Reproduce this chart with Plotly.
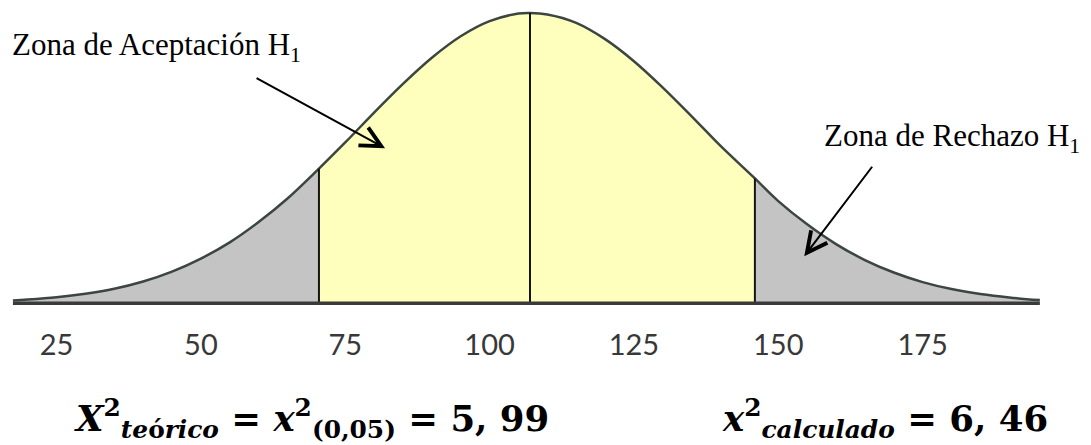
import plotly.graph_objects as go

# curve heights (peak = 1)
curve_x = [17.45, 20, 25, 30, 35, 40, 45, 50, 55, 60, 65, 70.45, 75, 80, 85, 90, 95, 100, 105,
           107.0, 110, 115, 120, 125, 130, 135, 140, 145.95, 150, 155, 160, 165, 170, 175, 180,
           185, 190, 195.3]
curve_y = [0.010, 0.013, 0.021, 0.033, 0.050, 0.075, 0.109, 0.154, 0.210, 0.280, 0.361, 0.464,
           0.554, 0.657, 0.756, 0.846, 0.920, 0.972, 0.998, 1.000, 0.995, 0.966, 0.910, 0.834,
           0.743, 0.644, 0.542, 0.430, 0.352, 0.272, 0.204, 0.149, 0.106, 0.073, 0.049, 0.032,
           0.020, 0.011]

cut_left = 70.45
cut_mid = 107.0
cut_right = 145.95

tick_vals = [25, 50, 75, 100, 125, 150, 175]
tick_text = ["25", "50", "75", "100", "125", "150", "175"]

label_accept = "Zona de Aceptación H<sub>1</sub>"
label_reject = "Zona de Rechazo H<sub>1</sub>"
formula_teo = "<b><i>X</i><sup>2</sup><sub><i>te</i>ó<i>rico</i></sub> = <i>x</i><sup>2</sup><sub>(0,05)</sub> = 5, 99</b>"
formula_calc = "<b><i>x</i><sup>2</sup><sub><i>calculado</i></sub> = 6, 46</b>"

GRAY = "#c4c4c4"
YELLOW = "#ffffbd"
CURVE = "#3c4641"


def part(lo, hi):
    pts = [(x, y) for x, y in zip(curve_x, curve_y) if lo <= x <= hi]
    return [p[0] for p in pts], [p[1] for p in pts]


def height_at(v):
    return curve_y[curve_x.index(v)]


fig = go.Figure()

# shaded regions
for lo, hi, col in [(curve_x[0], cut_left, GRAY), (cut_left, cut_right, YELLOW),
                    (cut_right, curve_x[-1], GRAY)]:
    xs, ys = part(lo, hi)
    fig.add_trace(go.Scatter(x=xs, y=ys, mode="lines", fill="tozeroy", fillcolor=col,
                             line=dict(width=0, shape="spline"), hoverinfo="skip"))

# outline of the curve
fig.add_trace(go.Scatter(x=curve_x, y=curve_y, mode="lines",
                         line=dict(color=CURVE, width=2.5, shape="spline"), hoverinfo="skip"))

# vertical cut lines
for v in [cut_left, cut_mid, cut_right]:
    fig.add_trace(go.Scatter(x=[v, v], y=[0, height_at(v)], mode="lines",
                             line=dict(color="#151515", width=2), hoverinfo="skip"))

# baseline
fig.add_trace(go.Scatter(x=[curve_x[0], curve_x[-1]], y=[0, 0], mode="lines",
                         line=dict(color="#3a3a3a", width=3.5), hoverinfo="skip"))

serif = dict(family="Liberation Serif", size=31, color="black")
math = dict(family="DejaVu Serif", size=35.5, color="black")

fig.update_layout(
    width=1091, height=445,
    margin=dict(l=0, r=0, t=0, b=133),
    paper_bgcolor="white", plot_bgcolor="white",
    showlegend=False,
    xaxis=dict(range=[15.21, 204.16], showgrid=False, zeroline=False, showline=False,
               tickvals=tick_vals, ticktext=tick_text, ticks="", ticklabelstandoff=13,
               tickfont=dict(family="Lato", size=29, color="#383838")),
    yaxis=dict(range=[-0.03, 1.0448], visible=False),
    annotations=[
        dict(x=16.94, y=0.883, xref="x", yref="y", text=label_accept, showarrow=False,
             xanchor="left", yanchor="middle", font=serif),
        dict(x=157.57, y=0.57, xref="x", yref="y", text=label_reject, showarrow=False,
             xanchor="left", yanchor="middle", font=serif),
        dict(x=81.9, y=0.534, xref="x", yref="y", text="", showarrow=True, ax=-130, ay=-71,
             arrowhead=5, arrowsize=2, arrowwidth=2, arrowcolor="black"),
        dict(x=154.5, y=0.162, xref="x", yref="y", text="", showarrow=True, ax=69, ay=-91,
             arrowhead=5, arrowsize=2, arrowwidth=2, arrowcolor="black"),
        dict(x=27.68, y=-0.34, xref="x", yref="paper", text=formula_teo, showarrow=False,
             xanchor="left", yanchor="middle", font=math),
        dict(x=139.9, y=-0.34, xref="x", yref="paper", text=formula_calc, showarrow=False,
             xanchor="left", yanchor="middle", font=math),
    ],
)

fig.write_html("out.html", config={"displayModeBar": False},
               post_script="document.body.style.margin='0';")
